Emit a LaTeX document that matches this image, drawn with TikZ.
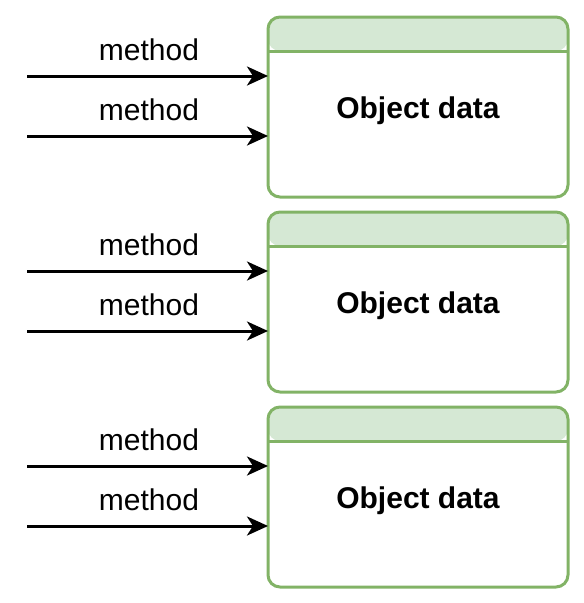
\documentclass[tikz,border=0pt]{standalone}
\usepackage{fontspec}
\setmainfont{Liberation Sans}
\usetikzlibrary{arrows.meta}
\definecolor{boxgreen}{HTML}{82B366}
\definecolor{hdrgreen}{HTML}{D5E8D4}
\tikzset{
  objbox/.style={draw=boxgreen, line width=3pt, rounded corners=12pt,
    minimum width=300pt, minimum height=180pt, inner sep=0pt, outer sep=0pt,
    path picture={
      \fill[hdrgreen] (path picture bounding box.north west) rectangle ([yshift=-34pt]path picture bounding box.north east);
      \draw[boxgreen, line width=3pt] ([yshift=-34pt]path picture bounding box.north west) -- ([yshift=-34pt]path picture bounding box.north east);
    }},
  objtext/.style={font=\fontsize{30}{36}\selectfont\bfseries, inner sep=0pt, anchor=base},
  methodarrow/.style={line width=3pt, -{Stealth[length=21pt,width=19pt,inset=6pt]}},
  methodlabel/.style={font=\fontsize{30}{36}\selectfont, inner sep=0pt, anchor=base, midway, yshift=15.5pt, xshift=1.5pt}
}
\begin{document}
\begin{tikzpicture}[x=1pt,y=-1pt]
\useasboundingbox (0,0) rectangle (584,603);
\foreach \i/\top in {1/17,2/212,3/407}{
  \node[objbox, anchor=north west] (b\i) at (268,\top) {};
  \node[objtext] (t\i) at ([yshift=-11pt]b\i.center) {Object data};
  \coordinate (sa\i) at (27,\top+59);
  \coordinate (sb\i) at (27,\top+119);
  \draw[methodarrow] (sa\i) -- node[methodlabel] (la\i) {method} (sa\i -| b\i.west);
  \draw[methodarrow] (sb\i) -- node[methodlabel] (lb\i) {method} (sb\i -| b\i.west);
}
\end{tikzpicture}
\end{document}
